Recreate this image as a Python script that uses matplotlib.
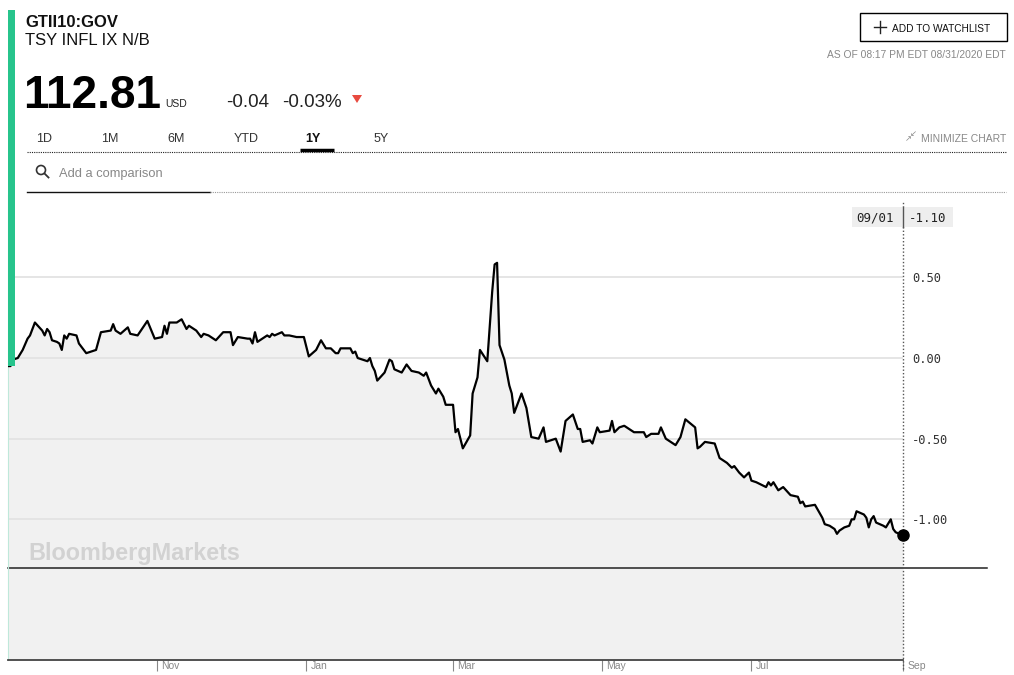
import numpy as np
import matplotlib
matplotlib.use("Agg")
import matplotlib.pyplot as plt
import matplotlib.transforms as mtransforms
from matplotlib.patches import Rectangle, Circle, Polygon

plt.rcParams['font.family'] = ['Liberation Sans', 'DejaVu Sans']

# ---- data ----
start = np.datetime64('2019-09-01')
day_offsets = [0, 1, 2, 4, 6, 8, 9, 11, 14, 15, 16, 17, 18, 20, 21, 22, 23, 24, 25, 28,
               29, 32, 36, 38, 42, 43, 44, 46, 49, 50, 53, 57, 60, 63, 64, 65, 66, 69, 71, 73,
               74, 77, 79, 80, 82, 85, 88, 91, 92, 94, 98, 99, 100, 101, 102, 104, 106, 107, 108, 109,
               112, 113, 115, 118, 121, 123, 126, 128, 130, 132, 134, 135, 136, 140, 141, 142, 143, 147, 148, 149,
               150, 151, 154, 156, 157, 158, 161, 163, 165, 168, 170, 171, 173, 175, 176, 178, 179, 182, 183, 184,
               186, 189, 190, 192, 193, 196, 198, 199, 200, 201, 203, 205, 206, 207, 210, 212, 214, 217, 219, 220,
               224, 226, 228, 231, 233, 234, 235, 238, 239, 241, 242, 246, 247, 248, 250, 252, 256, 260, 261, 263,
               266, 267, 269, 273, 275, 277, 281, 282, 283, 285, 289, 291, 294, 296, 297, 299, 301, 303, 304, 306,
               310, 311, 312, 313, 315, 317, 320, 323, 324, 325, 326, 330, 333, 334, 336, 338, 339, 340, 342, 344,
               345, 346, 347, 350, 351, 352, 353, 354, 355, 358, 359, 361, 362, 363, 366]
yields = [-0.05, -0.05, -0.01, 0.00, 0.05, 0.12, 0.14, 0.22, 0.17, 0.14, 0.18, 0.16, 0.11, 0.10, 0.09, 0.05, 0.14, 0.12, 0.15, 0.14,
          0.09, 0.03, 0.05, 0.16, 0.17, 0.21, 0.17, 0.15, 0.19, 0.15, 0.14, 0.23, 0.12, 0.13, 0.20, 0.15, 0.22, 0.22, 0.24, 0.18,
          0.20, 0.17, 0.13, 0.15, 0.14, 0.11, 0.16, 0.16, 0.08, 0.13, 0.12, 0.12, 0.09, 0.16, 0.10, 0.12, 0.14, 0.13, 0.15, 0.14,
          0.16, 0.14, 0.14, 0.13, 0.13, 0.01, 0.05, 0.11, 0.06, 0.06, 0.03, 0.03, 0.06, 0.06, 0.03, 0.04, 0.00, -0.02, 0.00, -0.05,
          -0.08, -0.14, -0.09, -0.01, -0.02, -0.07, -0.09, -0.04, -0.08, -0.09, -0.11, -0.09, -0.17, -0.22, -0.19, -0.24, -0.29, -0.29, -0.46, -0.44,
          -0.56, -0.48, -0.22, -0.12, 0.05, -0.02, 0.41, 0.58, 0.59, 0.08, -0.01, -0.17, -0.22, -0.34, -0.22, -0.31, -0.49, -0.50, -0.43, -0.52,
          -0.50, -0.58, -0.39, -0.35, -0.44, -0.44, -0.52, -0.51, -0.53, -0.43, -0.46, -0.45, -0.39, -0.46, -0.43, -0.42, -0.46, -0.46, -0.49, -0.47,
          -0.47, -0.43, -0.50, -0.54, -0.49, -0.38, -0.43, -0.56, -0.55, -0.52, -0.53, -0.62, -0.65, -0.68, -0.67, -0.71, -0.74, -0.71, -0.76, -0.77,
          -0.80, -0.77, -0.79, -0.77, -0.82, -0.80, -0.85, -0.86, -0.90, -0.89, -0.92, -0.91, -0.99, -1.03, -1.04, -1.06, -1.09, -1.07, -1.05, -1.04,
          -1.00, -1.00, -0.95, -0.97, -0.99, -1.05, -1.00, -0.98, -1.02, -1.04, -1.05, -1.00, -1.06, -1.08, -1.10]
dates = start + np.array(day_offsets)

month_ticks = np.array(['2019-11-01', '2020-01-01', '2020-03-01', '2020-05-01', '2020-07-01', '2020-09-01'],
                       dtype='datetime64[D]')
month_labels = ['Nov', 'Jan', 'Mar', 'May', 'Jul', 'Sep']
y_ticks = [0.50, 0.00, -0.50, -1.00]
volume_split = -1.30

ticker = "GTII10:GOV"
security = "TSY INFL IX N/B"
price = "112.81"
currency = "USD"
change = "-0.04"
change_pct = "-0.03%"
as_of = "AS OF 08:17 PM EDT 08/31/2020 EDT"
ranges = ["1D", "1M", "6M", "YTD", "1Y", "5Y"]
active_range = "1Y"

# ---- figure ----
W, H = 1014, 675
fig = plt.figure(figsize=(W / 100, H / 100), dpi=100)

ymin, ymax = -1.872, 1.0105
ax = fig.add_axes([8 / W, 15 / H, 895 / W, 465 / H])
ax.set_facecolor('none')
ax.fill_between(dates, yields, ymin, color='#f1f1f1', lw=0, zorder=1)
ax.plot(dates, yields, color='black', lw=1.6, zorder=3)
ax.plot(dates[-1], yields[-1], 'o', color='black', ms=8, clip_on=False, zorder=4)
ax.set_xlim(start, start + np.timedelta64(366, 'D'))
ax.set_ylim(ymin, ymax)

ax.set_yticks(y_ticks)
ax.set_yticklabels([f"{v:.2f}" for v in y_ticks])
ax.yaxis.tick_right()
ax.tick_params(axis='y', length=0, pad=6.5, labelsize=8.7, labelcolor='#333333')
for lab in ax.get_yticklabels():
    lab.set_family('DejaVu Sans Mono')
ax.grid(axis='y', color='#e3e3e3', lw=1.3)

ax.set_xticks(month_ticks)
ax.set_xticklabels(month_labels)
ax.tick_params(axis='x', length=8, width=0.8, color='#888888', pad=-7,
               labelsize=7.5, labelcolor='#888888', direction='out')
offset = mtransforms.ScaledTranslation(3 / 72, 0, fig.dpi_scale_trans)
for lab in ax.get_xticklabels():
    lab.set_ha('left')
    lab.set_transform(lab.get_transform() + offset)

ax.spines['top'].set_visible(False)
ax.spines['right'].set_visible(False)
ax.spines['left'].set_color('#bfe8da')
ax.spines['left'].set_linewidth(0.8)
ax.spines['bottom'].set_color('#444444')
ax.spines['bottom'].set_linewidth(1.3)

ax.axhline(volume_split, xmin=0, xmax=979 / 895, color='#222222', lw=1.1, clip_on=False, zorder=2)
ax.axvline(dates[-1], ymin=-0.02, ymax=0.985, color='#555555', lw=1, ls=(0, (1, 1.5)),
           clip_on=False, zorder=2)

# ---- header / overlay in pixel coordinates ----
ov = fig.add_axes([0, 0, 1, 1], zorder=5)
ov.set_xlim(0, W)
ov.set_ylim(H, 0)
ov.axis('off')
ov.patch.set_alpha(0)

ov.add_patch(Rectangle((8, 10), 7, 356, color='#27c48c', lw=0))

ov.text(25, 27, ticker, fontsize=12, fontweight='bold', color='#111111', va='baseline')
ov.text(25, 45, security, fontsize=12, color='#111111', va='baseline')
ov.text(23, 108, price, fontsize=33, fontweight='bold', color='black', va='baseline')
ov.text(165, 107, currency, fontsize=7.5, color='#222222', va='baseline')
ov.text(226, 107, change, fontsize=13.5, color='#222222', va='baseline')
ov.text(282, 107, change_pct, fontsize=13.5, color='#222222', va='baseline')
ov.add_patch(Polygon([(352, 95), (362, 95), (357, 103)], color='#e84a3f', lw=0))

# watchlist button
ov.add_patch(Rectangle((859.5, 12.5), 147, 28, fill=False, ec='black', lw=1))
ov.plot([874, 886], [27, 27], color='#222222', lw=1)
ov.plot([880, 880], [21, 33], color='#222222', lw=1)
ov.text(892, 31.5, "ADD TO WATCHLIST", fontsize=7.3, color='#111111', va='baseline')
ov.text(1006, 57.5, as_of, fontsize=7.4, color='#888888', va='baseline', ha='right')

# range tabs
tab_x = [36, 101, 167, 234, 305, 374]
for label, x in zip(ranges, tab_x):
    bold = label == active_range
    ov.text(x, 141.5, label, fontsize=9, color='#111111' if bold else '#333333',
            fontweight='bold' if bold else 'normal', va='baseline')
ov.plot([300, 334], [150, 150], color='black', lw=2.5, solid_capstyle='butt')
ov.plot([27, 1006], [151.5, 151.5], color='#222222', lw=0.8, ls=(0, (1, 1)))

ov.text(1006, 141.5, "MINIMIZE CHART", fontsize=7.5, color='#888888', va='baseline', ha='right')
ov.text(905, 141, "\u2197", fontsize=6, color='#888888', va='baseline', family='DejaVu Sans')
ov.text(910, 136, "\u2199", fontsize=6, color='#888888', va='baseline', family='DejaVu Sans')

# comparison search
ov.add_patch(Circle((41, 170), 4.5, fill=False, ec='#333333', lw=1.2))
ov.plot([44.5, 48.5], [173.5, 177.5], color='#333333', lw=1.3)
ov.text(59, 177, "Add a comparison", fontsize=9.3, color='#888888', va='baseline')
ov.plot([27, 210], [191.5, 191.5], color='#111111', lw=1)
ov.plot([210, 1006], [192, 192], color='#999999', lw=0.8, ls=(0, (1, 1)))

# crosshair label
last_date = dates[-1].astype(object).strftime('%m/%d')
ov.add_patch(Rectangle((852, 207), 101, 20, color='#eeeeee', lw=0))
ov.plot([903, 903], [207, 227], color='#555555', lw=1)
ov.text(856, 221.5, last_date, fontsize=9, family='DejaVu Sans Mono', color='#222222', va='baseline')
ov.text(909, 221.5, f"{yields[-1]:.2f}", fontsize=9, family='DejaVu Sans Mono', color='#222222', va='baseline')

# watermark
ov.text(28, 560, "BloombergMarkets", fontsize=16.8, fontweight='bold', color='#d2d2d2', va='baseline')

fig.savefig('out.png', dpi=100)
